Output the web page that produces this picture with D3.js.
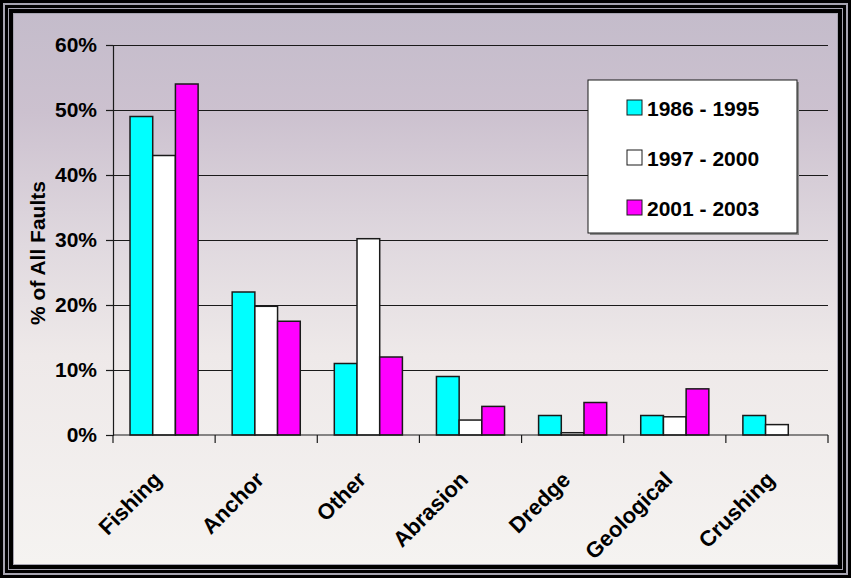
<!DOCTYPE html>
<html>
<head>
<meta charset="utf-8">
<script src="https://cdn.jsdelivr.net/npm/d3@7"></script>
<style>
  html, body { margin: 0; padding: 0; background: #000; }
  svg { display: block; font-family: "Liberation Sans", Arial, sans-serif; }
</style>
</head>
<body>
<svg id="chart"></svg>
<script>
const categories = ['Fishing', 'Anchor', 'Other', 'Abrasion', 'Dredge', 'Geological', 'Crushing'];
const seriesNames = ['1986 - 1995', '1997 - 2000', '2001 - 2003'];
const v1986 = [49, 22, 11, 9, 3, 3, 3];
const v1997 = [43, 19.8, 30.2, 2.3, 0.35, 2.8, 1.6];
const v2001 = [54, 17.5, 12, 4.4, 5, 7.1, 0];
const yTicks = [0, 10, 20, 30, 40, 50, 60];

const W = 851, H = 578;
const colors = ['#00ffff', '#ffffff', '#ff00ff'];
const series = [v1986, v1997, v2001];

const svg = d3.select('#chart').attr('width', W).attr('height', H);

// background gradient
const defs = svg.append('defs');
const grad = defs.append('linearGradient')
  .attr('id', 'bg')
  .attr('x1', 0).attr('y1', 0).attr('x2', 0).attr('y2', 1);
[[0, '#c4bccb'], [0.18, '#ccc1cf'], [0.42, '#e0d9df'], [0.62, '#eee9e9'], [1, '#f5f3f1']]
  .forEach(([o, c]) => grad.append('stop').attr('offset', o).attr('stop-color', c));

// frame: black / gray stripes
const frame = [[0, '#000'], [3, '#a6a4b0'], [5, '#000'], [8, '#a6a4b0'], [9, '#000'], [13, '#a6a4b0']];
frame.forEach(([inset, c]) => {
  svg.append('rect')
    .attr('x', inset).attr('y', inset)
    .attr('width', W - 2 * inset).attr('height', H - 2 * inset)
    .attr('fill', c);
});
svg.append('rect')
  .attr('x', 14).attr('y', 14)
  .attr('width', W - 28).attr('height', H - 28)
  .attr('fill', 'url(#bg)');

const margin = { top: 45, left: 113, right: 23, bottom: 143 };
const innerW = W - margin.left - margin.right;
const innerH = H - margin.top - margin.bottom;

const g = svg.append('g').attr('transform', `translate(${margin.left},${margin.top})`);

const x = d3.scaleBand()
  .domain(categories)
  .range([0, innerW])
  .paddingInner(1 / 3)
  .paddingOuter(1 / 6);

const xs = d3.scaleBand()
  .domain(d3.range(series.length))
  .range([0, x.bandwidth()]);

const y = d3.scaleLinear().domain([0, 60]).range([innerH, 0]);

// grid lines
g.append('g')
  .call(d3.axisLeft(y).tickValues(yTicks.slice(1)).tickSize(-innerW).tickFormat(''))
  .call(a => a.select('.domain').remove())
  .selectAll('line')
  .attr('stroke', '#1a1a1a')
  .attr('stroke-width', 1.2);

// y axis
g.append('g')
  .call(d3.axisLeft(y).tickValues(yTicks).tickSize(7).tickFormat(d => d + '%'))
  .call(a => a.select('.domain').attr('stroke', '#1a1a1a').attr('stroke-width', 1.2))
  .call(a => a.selectAll('line').attr('stroke', '#1a1a1a').attr('stroke-width', 1.2))
  .selectAll('text')
  .attr('x', -16)
  .attr('fill', '#000')
  .style('font-size', '21px')
  .style('font-weight', 'bold');

// bars
categories.forEach((cat, ci) => {
  series.forEach((vals, si) => {
    if (vals[ci] <= 0) return;
    g.append('rect')
      .attr('x', x(cat) + xs(si))
      .attr('y', y(vals[ci]))
      .attr('width', xs.bandwidth())
      .attr('height', innerH - y(vals[ci]))
      .attr('fill', colors[si])
      .attr('stroke', '#1a1a1a')
      .attr('stroke-width', 1.5);
  });
});

// x axis, ticks at category boundaries
const xAxis = g.append('g').attr('transform', `translate(0,${innerH})`);
xAxis.append('line')
  .attr('x1', 0).attr('x2', innerW)
  .attr('stroke', '#1a1a1a').attr('stroke-width', 1.2);
const step = x.step();
xAxis.selectAll('.xt')
  .data(d3.range(categories.length + 1))
  .enter().append('line')
  .attr('x1', i => i * step).attr('x2', i => i * step)
  .attr('y1', 0).attr('y2', 8)
  .attr('stroke', '#1a1a1a').attr('stroke-width', 1.2);

xAxis.selectAll('.xl')
  .data(categories)
  .enter().append('text')
  .attr('transform', d => `translate(${x(d) + x.bandwidth() / 2 - 1},${46}) rotate(-45)`)
  .attr('text-anchor', 'end')
  .attr('fill', '#000')
  .style('font-size', '22px')
  .style('font-weight', 'bold')
  .text(d => d);

// y title
svg.append('text')
  .attr('transform', `translate(45,253) rotate(-90)`)
  .attr('text-anchor', 'middle')
  .style('font-size', '21px')
  .style('font-weight', 'bold')
  .text('% of All Faults');

// legend
const lg = svg.append('g').attr('transform', 'translate(588,80)');
lg.append('rect')
  .attr('x', 2).attr('y', 2).attr('width', 209).attr('height', 153)
  .attr('fill', '#8a8a8a');
lg.append('rect')
  .attr('width', 209).attr('height', 153)
  .attr('fill', '#fff')
  .attr('stroke', '#1a1a1a').attr('stroke-width', 1);
seriesNames.forEach((name, i) => {
  const row = lg.append('g').attr('transform', `translate(39,${36 + i * 50})`);
  row.append('rect')
    .attr('x', 0).attr('y', -16).attr('width', 15).attr('height', 15)
    .attr('fill', colors[i])
    .attr('stroke', '#1a1a1a').attr('stroke-width', 1);
  row.append('text')
    .attr('x', 20).attr('y', 0)
    .style('font-size', '21px')
    .style('font-weight', 'bold')
    .text(name);
});
</script>
</body>
</html>
